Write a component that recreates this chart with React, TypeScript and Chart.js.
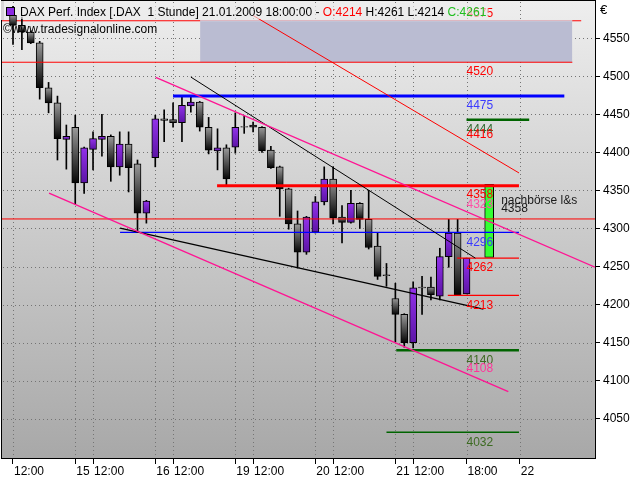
import React, { useEffect, useRef } from 'react';
import { Chart, registerables } from 'chart.js';

Chart.register(...registerables);

const FONT = "'Liberation Sans', Arial, sans-serif";

// ---- hourly candles (index 0 = 14.01 12:00 ... index 51 = 21.01 18:00)
const opens  = [4580,4567,4558,4544,4485,4465,4417,4433,4360,4404,4417,4421,4381,4411,4385,4320,4393,4444,4443,4439,4461,4466,4433,4402,4406,4407,4434,4436,4433,4403,4381,4352,4306,4269,4295,4335,4365,4315,4308,4333,4312,4277,4239,4208,4187,4150,4223,4223,4211,4263,4294,4214];
const highs  = [4592,4578,4560,4546,4492,4474,4436,4449,4407,4427,4450,4423,4427,4427,4390,4337,4449,4456,4465,4474,4473,4467,4446,4431,4410,4452,4448,4440,4434,4408,4382,4353,4323,4316,4342,4381,4381,4330,4350,4334,4350,4294,4254,4228,4188,4230,4237,4236,4274,4312,4312,4261];
const lows   = [4542,4535,4543,4470,4452,4390,4378,4332,4346,4377,4395,4362,4370,4348,4295,4307,4381,4414,4433,4414,4453,4428,4398,4377,4357,4399,4425,4427,4400,4379,4316,4299,4248,4266,4294,4331,4306,4281,4307,4300,4273,4233,4224,4151,4144,4143,4187,4206,4206,4249,4212,4214];
const closes = [4567,4558,4544,4485,4465,4418,4421,4360,4406,4418,4421,4381,4411,4380,4320,4336,4444,4442,4439,4462,4466,4433,4403,4406,4365,4433,4433,4433,4402,4380,4352,4306,4269,4315,4335,4365,4314,4308,4333,4312,4275,4237,4238,4187,4150,4222,4222,4213,4263,4294,4213,4261];

// ---- axis ticks
const xTickIdx = [0, 7, 9, 16, 18, 25, 27, 34, 36, 43, 45, 51, 57];
const xTickLabels = ['12:00', '15', '12:00', '16', '12:00', '19', '12:00', '20', '12:00', '21', '12:00', '18:00', '22'];
const yTickValues = [4050, 4100, 4150, 4200, 4250, 4300, 4350, 4400, 4450, 4500, 4550];

// ---- horizontal levels (start index, end index, value)
const levelValues = [4573, 4518.5, 4474, 4443, 4356, 4312.5, 4295, 4261, 4212, 4140, 4032];
const levelStart  = [-1.3, -1.3, 18.0, 51.0, 22.95, -1.3, 12.04, 49.95, 48.9, 43.1, 42.0];
const levelEnd    = [63.9, 62.9, 62.0, 58.05, 56.9, 65.5, 56.9, 56.9, 56.9, 56.9, 56.9];

// ---- trend lines
const trendStartIdx = [27, 16.05, 4.05, 20, 12.04];
const trendStartVal = [4580, 4498.7, 4346.5, 4499, 4300.5];
const trendEndIdx   = [56.9, 65.45, 55.7, 52, 52.9];
const trendEndVal   = [4373, 4249.2, 4085.6, 4261, 4194];

// ---- shaded zone
const zoneIdx = [21.04, 62.9];
const zoneVals = [4573, 4518.5];

// ---- after-hours bar
const afterIdx = 53.55;
const afterRange = [4262, 4358];

// ---- value labels
const labelIdx = 51;
const belowLabels = ['4520', '4475', '4444', '4358', '4296', '4262', '4213', '4140', '4032'];
const aboveLabels = ['4575', '4416', '4323', '4108'];
const noteIdx = 54.9;
const noteTexts = ['nachbörse l&s', '4358'];
const noteVals = [4332, 4321.7];

// ---- styles
const RED = '#ff0000';
const BLUE = '#0000ff';
const PINK = '#ff1493';
const DGREEN = '#006400';
const levelColors = [RED, RED, BLUE, DGREEN, RED, RED, BLUE, RED, RED, DGREEN, DGREEN];
const levelWidths = [1, 1, 3, 2.5, 3, 1, 1.3, 1.3, 1.3, 2.5, 1.5];
const trendColors = [RED, PINK, PINK, '#000000', '#000000'];
const trendWidths = [1, 1.3, 1.3, 1, 1.3];
const belowColors = [RED, '#3a3aff', '#2f6a2f', RED, '#3a3aff', RED, RED, '#3d6b22', '#3d6b22'];
const aboveColors = [RED, RED, '#ff4fa5', '#ff3399'];
const GRID = '#747474';

const idx = opens.map((_, i) => i);

function bodyFill(c: any) {
  const i = c.dataIndex;
  if (i == null) return '#777';
  const up = closes[i] >= opens[i];
  const ys = c.chart.scales && c.chart.scales.y;
  if (!ys) return up ? '#7a22d0' : '#444';
  const top = ys.getPixelForValue(Math.max(opens[i], closes[i]));
  const bot = ys.getPixelForValue(Math.min(opens[i], closes[i]));
  if (!isFinite(top) || !isFinite(bot) || bot - top < 2) return up ? '#7a22d0' : '#666';
  const g = c.chart.ctx.createLinearGradient(0, top, 0, bot);
  if (up) {
    g.addColorStop(0, '#9232ea');
    g.addColorStop(1, '#5c14a6');
  } else {
    g.addColorStop(0, '#9a9a9a');
    g.addColorStop(1, '#050505');
  }
  return g;
}

const bgPlugin = {
  id: 'bgPlugin',
  beforeDraw(chart: any) {
    const { ctx, chartArea: a, width, height } = chart;
    ctx.save();
    ctx.fillStyle = '#ffffff';
    ctx.fillRect(0, 0, width, height);
    const g = ctx.createLinearGradient(0, a.top, 0, a.bottom);
    g.addColorStop(0, '#eeeeee');
    g.addColorStop(1, '#a8a8a8');
    ctx.fillStyle = g;
    ctx.fillRect(a.left, a.top, a.right - a.left, a.bottom - a.top);
    ctx.restore();
  },
  beforeDatasetsDraw(chart: any) {
    // dotted grid at the scales' tick positions
    const { ctx, chartArea: a } = chart;
    const xs = chart.scales.x;
    const ys = chart.scales.y;
    ctx.save();
    ctx.fillStyle = GRID;
    const L = Math.ceil(a.left) + 1;
    const R = Math.floor(a.right);
    const T = Math.ceil(a.top) + 1;
    const B = Math.floor(a.bottom);
    xs.ticks.forEach((t: any) => {
      const px = Math.round(xs.getPixelForValue(t.value));
      for (let y = T; y < B; y += 4) ctx.fillRect(px, y, 1, 1);
    });
    ys.ticks.forEach((t: any) => {
      const py = Math.round(ys.getPixelForValue(t.value));
      for (let x = L; x < R; x += 4) ctx.fillRect(x, py, 1, 1);
    });
    ctx.restore();
  },
};

const textPlugin = {
  id: 'textPlugin',
  afterDraw(chart: any) {
    const { ctx, chartArea: a } = chart;
    const xs = chart.scales.x;
    const ys = chart.scales.y;
    ctx.save();
    // frame
    ctx.strokeStyle = '#000';
    ctx.lineWidth = 1;
    ctx.strokeRect(Math.round(a.left) - 0.5, Math.round(a.top) - 0.5, Math.round(a.right - a.left) + 1, Math.round(a.bottom - a.top) + 1);

    ctx.font = `12px ${FONT}`;
    ctx.textAlign = 'left';
    ctx.textBaseline = 'alphabetic';
    const lx = xs.getPixelForValue(labelIdx);
    belowLabels.forEach((t, k) => {
      ctx.fillStyle = belowColors[k];
      ctx.fillText(t, lx, ys.getPixelForValue(Number(t)) + 14);
    });
    aboveLabels.forEach((t, k) => {
      ctx.fillStyle = aboveColors[k];
      ctx.fillText(t, lx, ys.getPixelForValue(Number(t)) - 2.5);
    });
    const nx = xs.getPixelForValue(noteIdx);
    noteTexts.forEach((t, k) => {
      ctx.fillStyle = '#1a1a1a';
      ctx.fillText(t, nx, ys.getPixelForValue(noteVals[k]));
    });

    // title
    const segs: [string, string][] = [
      ['DAX Perf. Index [.DAX  1 Stunde] 21.01.2009 18:00:00 - ', '#000000'],
      ['O:4214 ', '#ff0000'],
      ['H:4261 ', '#000000'],
      ['L:4214 ', '#000000'],
      ['C:4261', '#1fbf1f'],
    ];
    const total = segs.reduce((s, p) => s + ctx.measureText(p[0]).width, 0);
    ctx.fillStyle = 'rgba(236,236,236,0.65)';
    ctx.fillRect(18, 3, total + 4, 16);
    let tx = 20;
    segs.forEach(([t, c]) => {
      ctx.fillStyle = c;
      ctx.fillText(t, tx, 16);
      tx += ctx.measureText(t).width;
    });
    // left panel + icon
    ctx.fillStyle = '#d6d6d6';
    ctx.fillRect(1, 1, 3, 19);
    ctx.fillStyle = '#8a2be2';
    ctx.fillRect(6, 7, 9, 9);
    ctx.strokeStyle = '#000';
    ctx.strokeRect(6.5, 7.5, 8, 8);
    // copyright
    ctx.fillStyle = '#000';
    ctx.fillText('©www.tradesignalonline.com', 3, 33);
    // currency
    ctx.font = `13px ${FONT}`;
    ctx.fillText('€', 600, 14);
    ctx.restore();
  },
};

function lineDs(points: { x: number; y: number }[], color: string, width: number, order: number) {
  return {
    type: 'line' as const,
    data: points,
    borderColor: color,
    borderWidth: width,
    pointRadius: 0,
    pointHoverRadius: 0,
    fill: false,
    tension: 0,
    order,
    borderCapStyle: 'butt',
  };
}

export default function App() {
  const ref = useRef<HTMLCanvasElement | null>(null);

  useEffect(() => {
    if (!ref.current) return;
    const datasets: any[] = [];

    // level 4575 line underneath the zone
    datasets.push(lineDs([{ x: levelStart[0], y: levelValues[0] }, { x: levelEnd[0], y: levelValues[0] }], levelColors[0], levelWidths[0], 20));
    // zone
    datasets.push({
      type: 'line',
      data: [{ x: zoneIdx[0], y: zoneVals[0] }, { x: zoneIdx[1], y: zoneVals[0] }],
      borderColor: '#d8d9e4',
      borderWidth: 1,
      backgroundColor: 'rgb(186,188,210)',
      fill: { value: zoneVals[1] },
      pointRadius: 0,
      tension: 0,
      order: 19,
    });
    // wicks
    datasets.push({
      type: 'bar',
      data: idx.map((i) => ({ x: i, y: [lows[i], highs[i]] })),
      backgroundColor: '#000',
      borderWidth: 0,
      barThickness: 1,
      grouped: false,
      order: 15,
    });
    // bodies
    datasets.push({
      type: 'bar',
      data: idx.map((i) => ({ x: i, y: [opens[i], closes[i]] })),
      backgroundColor: bodyFill,
      borderColor: '#000',
      borderWidth: 1,
      borderSkipped: false,
      barThickness: 7,
      grouped: false,
      order: 14,
    });
    // after-hours bar
    datasets.push({
      type: 'bar',
      data: [{ x: afterIdx, y: afterRange }],
      backgroundColor: '#33ff33',
      borderColor: '#000',
      borderWidth: 1,
      borderSkipped: false,
      barThickness: 9,
      grouped: false,
      order: 12,
    });
    // remaining levels
    for (let k = 1; k < levelValues.length; k++) {
      datasets.push(lineDs([{ x: levelStart[k], y: levelValues[k] }, { x: levelEnd[k], y: levelValues[k] }], levelColors[k], levelWidths[k], 5));
    }
    // trend lines
    for (let k = 0; k < trendStartIdx.length; k++) {
      datasets.push(lineDs([{ x: trendStartIdx[k], y: trendStartVal[k] }, { x: trendEndIdx[k], y: trendEndVal[k] }], trendColors[k], trendWidths[k], 4));
    }

    const chart = new Chart(ref.current, {
      type: 'bar',
      data: { datasets },
      options: {
        responsive: false,
        animation: false,
        devicePixelRatio: 1,
        layout: { padding: { left: 2, top: 1, right: 0, bottom: 0 } },
        plugins: { legend: { display: false }, tooltip: { enabled: false } },
        events: [],
        scales: {
          x: {
            type: 'linear',
            offset: false,
            min: -1.237,
            max: 65.45,
            afterBuildTicks: (s: any) => {
              s.ticks = xTickIdx.map((v) => ({ value: v }));
            },
            afterFit: (s: any) => {
              s.height = 22;
              s.paddingLeft = 0;
              s.paddingRight = 0;
            },
            ticks: {
              autoSkip: false,
              maxRotation: 0,
              minRotation: 0,
              align: 'start',
              labelOffset: 1,
              padding: 0,
              color: '#000',
              font: { family: FONT, size: 12 },
              callback: (_v: any, i: number) => xTickLabels[i],
            },
            grid: { display: true, drawOnChartArea: false, offset: false, color: '#000', lineWidth: 1, drawTicks: true, tickLength: 6, tickColor: '#000', tickWidth: 1 },
            border: { display: false },
          },
          y: {
            type: 'linear',
            position: 'right',
            min: 3998.3,
            max: 4599,
            afterBuildTicks: (s: any) => {
              s.ticks = yTickValues.map((v) => ({ value: v }));
            },
            afterFit: (s: any) => {
              s.width = 45;
              s.paddingTop = 0;
              s.paddingBottom = 0;
            },
            ticks: {
              padding: 3,
              color: '#000',
              font: { family: FONT, size: 12 },
              callback: (v: any) => String(v),
            },
            grid: { display: true, drawOnChartArea: false, color: '#000', lineWidth: 1, drawTicks: true, tickLength: 5, tickColor: '#000', tickWidth: 1 },
            border: { display: false },
          },
        },
      } as any,
      plugins: [bgPlugin, textPlugin],
    });
    return () => chart.destroy();
  }, []);

  return (
    <div style={{ position: 'fixed', left: 0, top: 0, width: 640, height: 480, background: '#fff' }}>
      <canvas ref={ref} width={640} height={480} style={{ display: 'block' }} />
    </div>
  );
}
